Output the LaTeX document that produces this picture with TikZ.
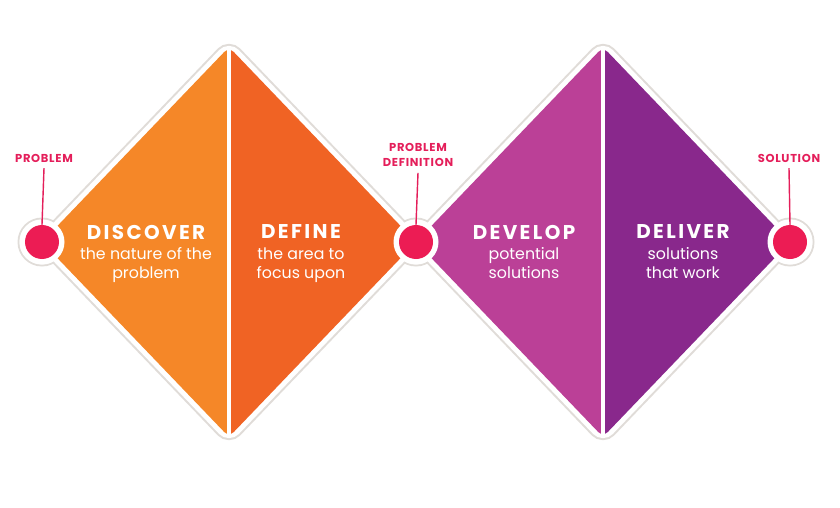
\documentclass[tikz,border=0pt]{standalone}
\usepackage{fontspec}
\setmainfont{Poppins}
\definecolor{discoverorange}{RGB}{245,135,40}
\definecolor{defineorange}{RGB}{240,99,36}
\definecolor{developpink}{RGB}{187,64,151}
\definecolor{deliverpurple}{RGB}{137,40,140}
\definecolor{dotpink}{RGB}{236,28,84}
\definecolor{tagpink}{RGB}{228,30,90}
\definecolor{rimgrey}{RGB}{224,220,216}
\usetikzlibrary{positioning,calc}

\begin{document}
\begin{tikzpicture}[x=0.03cm, y=-0.03cm,
  title/.style={text=white, inner sep=0pt, font=\bfseries\fontsize{17}{20}\selectfont\addfontfeatures{LetterSpace=12}},
  sub/.style={text=white, align=center, inner sep=0pt, font=\fontsize{13.5}{16}\selectfont},
  tag/.style={text=tagpink, align=center, inner sep=1pt, font=\bfseries\fontsize{9.8}{13}\selectfont\addfontfeatures{LetterSpace=6}},
  dot/.style={circle, fill=dotpink, inner sep=0pt, minimum size=1.02cm},
  stem/.style={tagpink, line width=1.2pt}
]
\useasboundingbox (0,0) rectangle (840,508);
% corners of the two diamonds
\coordinate (l1) at (42,242);
\coordinate (t1) at (229,47);
\coordinate (r1) at (416,242);
\coordinate (b1) at (229,437);
\coordinate (t2) at (603,47);
\coordinate (r2) at (790,242);
\coordinate (b2) at (603,437);

% grey rim, then white band
\foreach \p in {l1,r1,r2} \fill[rimgrey] (\p) circle (24.5);
\draw[rimgrey, line width=12pt, rounded corners=8pt] (l1) -- (t1) -- (r1) -- (b1) -- cycle;
\draw[rimgrey, line width=12pt, rounded corners=8pt] (r1) -- (t2) -- (r2) -- (b2) -- cycle;
\foreach \p in {l1,r1,r2} \fill[white] (\p) circle (22.5);
\draw[white, line width=8.5pt, rounded corners=8pt] (l1) -- (t1) -- (r1) -- (b1) -- cycle;
\draw[white, line width=8.5pt, rounded corners=8pt] (r1) -- (t2) -- (r2) -- (b2) -- cycle;

% coloured halves
\begin{scope}
  \clip[rounded corners=6pt] (l1) -- (t1) -- (r1) -- (b1) -- cycle;
  \fill[discoverorange] (l1 |- t1) rectangle (b1);
  \fill[defineorange] (t1) rectangle (r1 |- b1);
\end{scope}
\begin{scope}
  \clip[rounded corners=6pt] (r1) -- (t2) -- (r2) -- (b2) -- cycle;
  \fill[developpink] (r1 |- t2) rectangle (b2);
  \fill[deliverpurple] (t2) rectangle (r2 |- b2);
\end{scope}
\draw[white, line width=2.8pt] (t1) -- (b1);
\draw[white, line width=2.8pt] (t2) -- (b2);
\foreach \p in {l1,r1,r2} \fill[white] (\p) circle (22.5);

% stage texts
\node[title] (discover) at (146,232) {DISCOVER};
\node[sub, below=7pt of discover] (discoversub) {the nature of the\\problem};
\node[title] (define) at (301,232) {DEFINE};
\node[sub, below=7pt of define] (definesub) {the area to\\focus upon};
\node[title] (develop) at (524,232) {DEVELOP};
\node[sub, below=7pt of develop] (developsub) {potential\\solutions};
\node[title] (deliver) at (683,232) {DELIVER};
\node[sub, below=7pt of deliver] (deliversub) {solutions\\that work};

% milestones
\node[dot] (problemdot) at (l1) {};
\node[dot] (definitiondot) at (r1) {};
\node[dot] (solutiondot) at (r2) {};
\node[tag] (problem) at (44,158) {PROBLEM};
\node[tag] (definition) at (418,155) {PROBLEM\\DEFINITION};
\node[tag] (solution) at (789,158) {SOLUTION};
\draw[stem] ([yshift=-4pt]problem.south) -- (problemdot.north);
\draw[stem] ([yshift=-4pt]definition.south) -- (definitiondot.north);
\draw[stem] ([yshift=-4pt]solution.south) -- (solutiondot.north);
\end{tikzpicture}
\end{document}
